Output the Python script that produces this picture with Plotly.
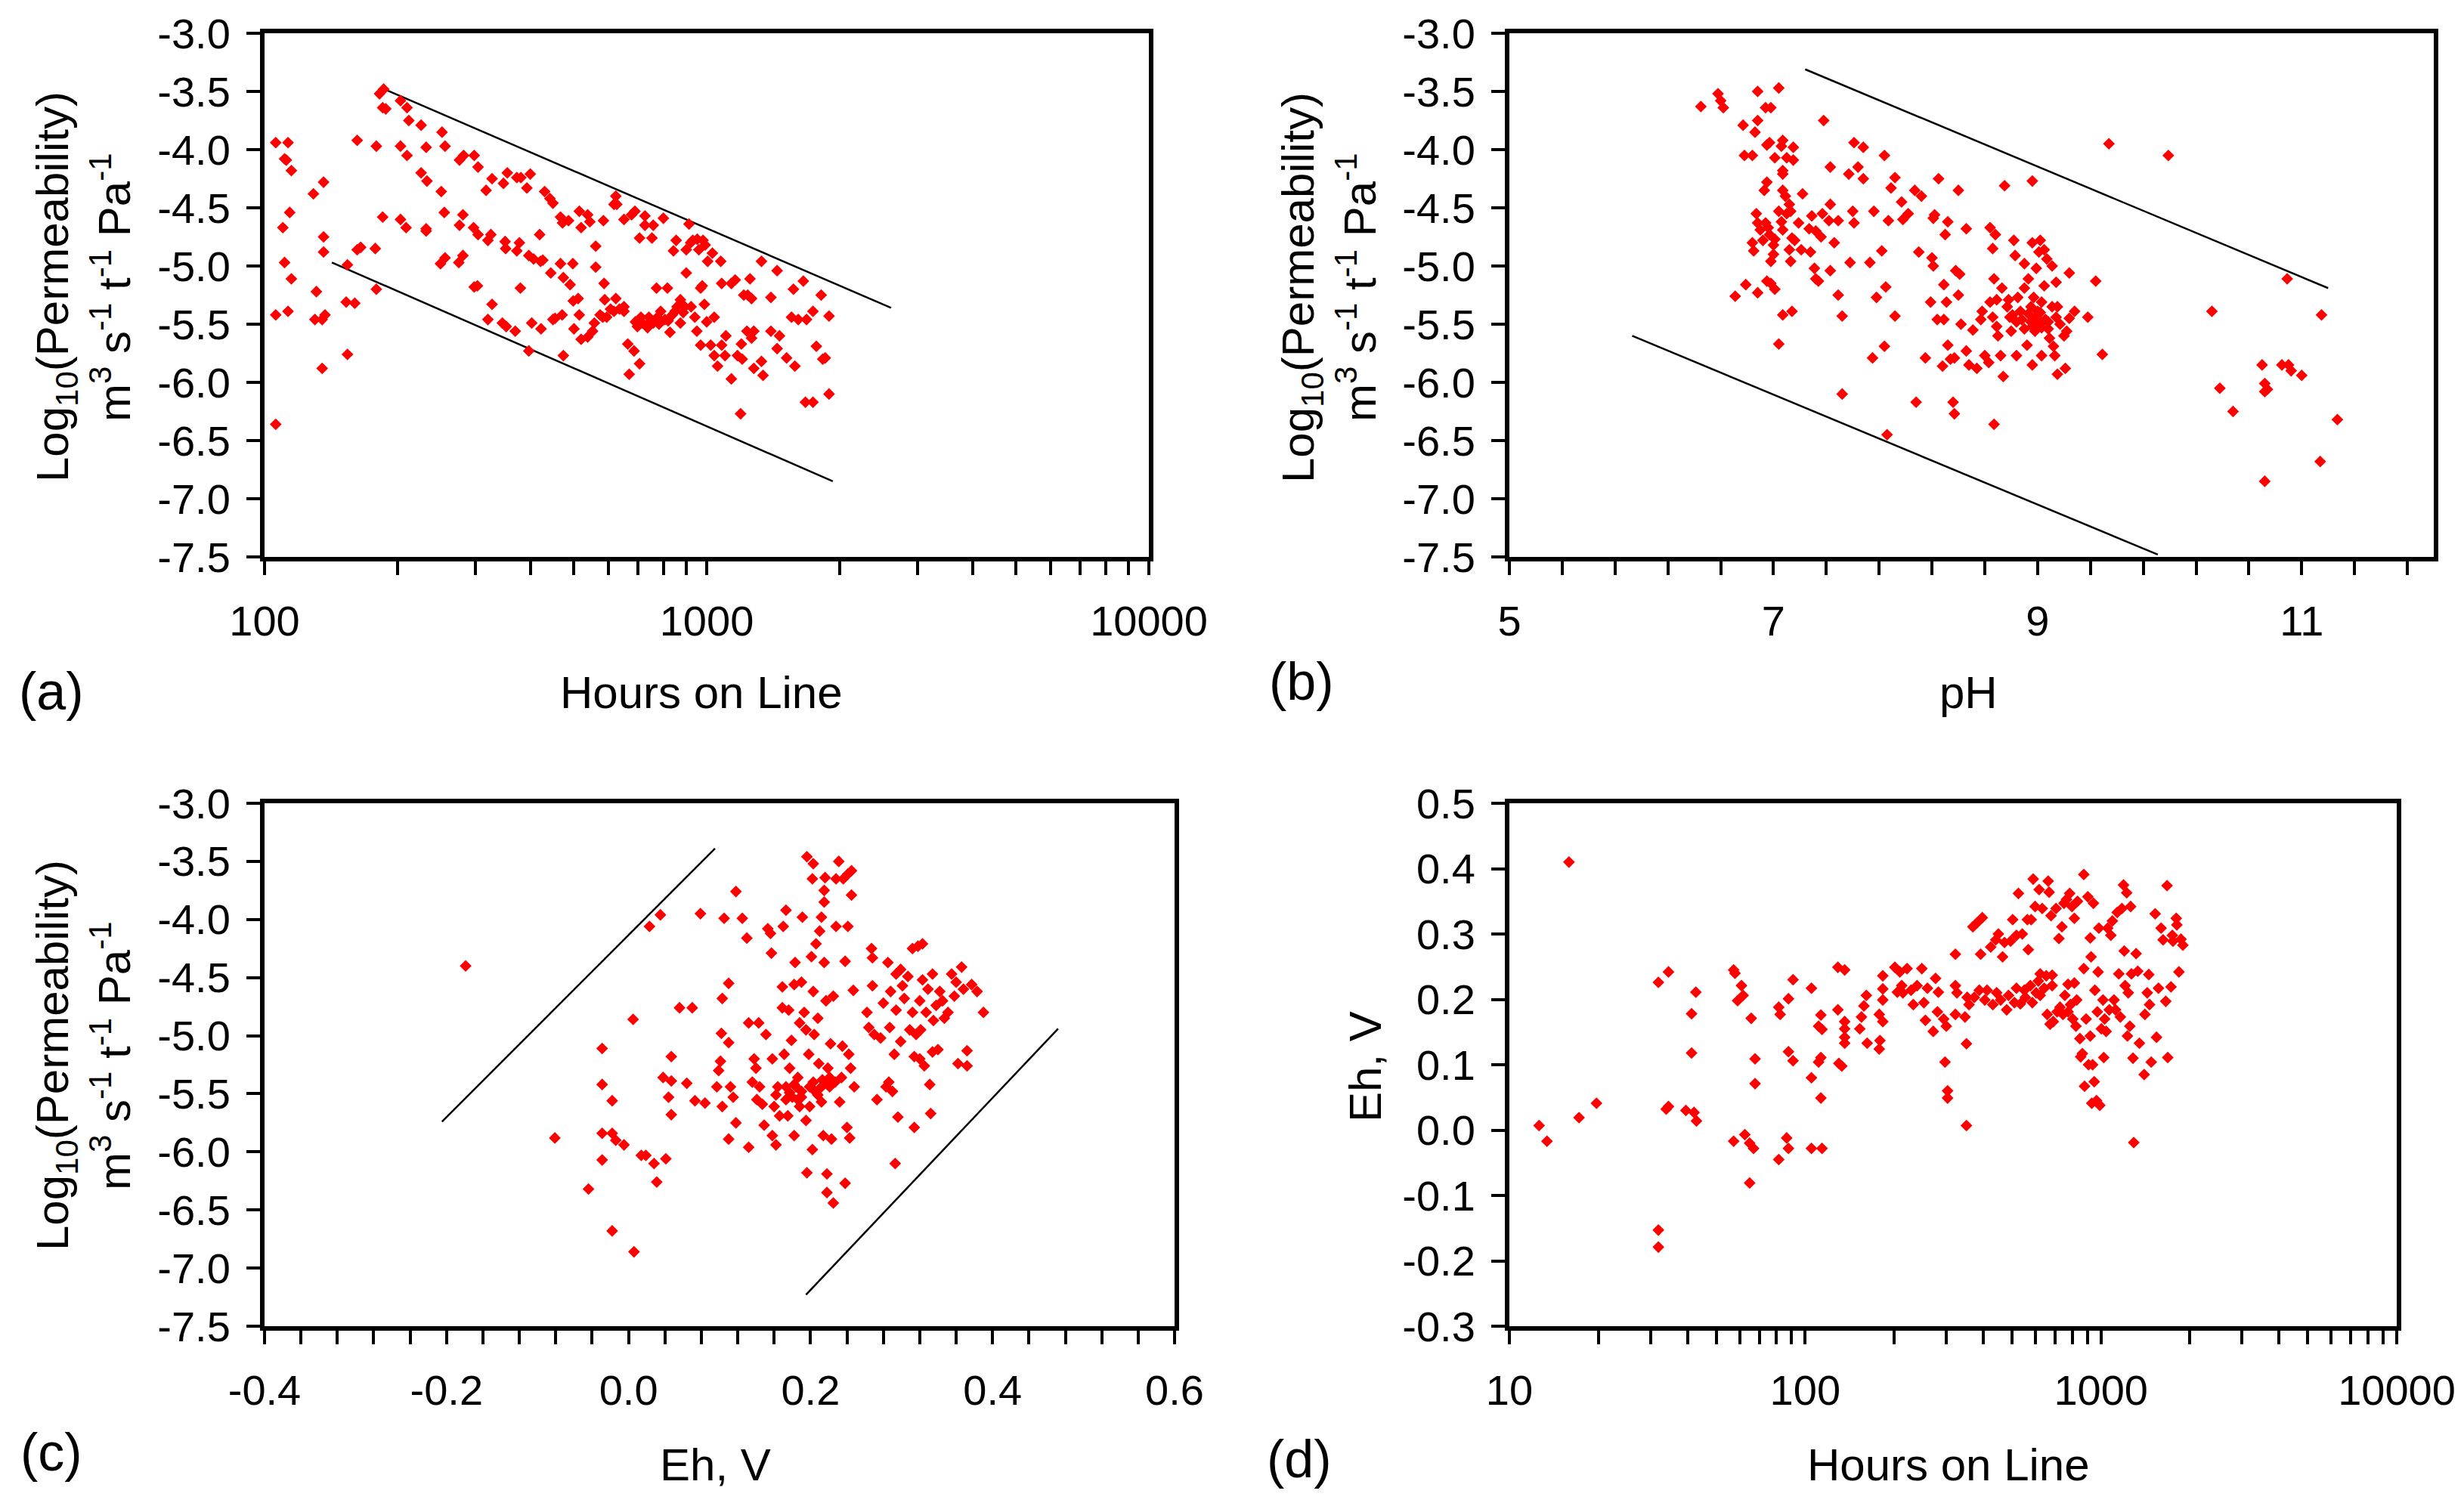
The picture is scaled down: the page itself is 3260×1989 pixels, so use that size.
import plotly.graph_objects as go
from plotly.subplots import make_subplots

FONT = "Liberation Sans"

# ---- (a) log permeability vs hours on line: (hours, log10 k) ----
a_points = [
    (106, -3.94), (113, -3.94), (111, -4.08), (112, -4.09), (115, -4.18), (129, -4.38), (136, -4.28),
    (110, -4.67), (114, -4.54), (111, -4.97), (115, -5.11), (106, -5.42), (113, -5.39), (131, -5.22),
    (130, -5.46), (135, -5.46), (137, -5.42), (136, -4.75), (136, -4.88), (135, -5.88), (106, -6.36),
    (154, -4.99), (153, -5.31), (160, -5.32), (154, -5.76), (162, -3.92), (162, -4.86), (165, -4.84),
    (178, -4.85), (179, -3.97), (179, -5.20), (186, -3.48), (182, -3.52), (185, -3.64), (188, -3.65),
    (185, -4.58), (203, -3.58), (210, -3.64), (212, -3.75), (226, -3.79), (232, -3.98), (203, -3.97),
    (210, -4.05), (226, -4.20), (233, -4.27), (252, -3.85), (256, -3.97), (251, -4.36), (255, -4.54),
    (203, -4.60), (209, -4.67), (232, -4.68), (232, -4.70), (250, -4.98), (256, -4.93), (276, -4.09),
    (282, -4.05), (276, -4.65), (281, -4.56), (275, -4.97), (281, -4.91), (298, -4.05), (304, -4.15),
    (297, -4.67), (304, -4.73), (298, -5.18), (303, -5.17), (317, -4.35), (327, -4.25), (325, -4.73),
    (320, -4.78), (320, -5.46), (327, -5.33), (347, -4.29), (354, -4.20), (350, -4.79), (351, -4.85),
    (345, -5.49), (352, -5.52), (372, -4.24), (380, -4.24), (372, -4.87), (377, -4.80), (369, -5.56),
    (379, -5.19), (392, -4.33), (399, -4.21), (396, -4.91), (406, -4.94), (396, -5.73), (402, -5.49),
    (419, -4.73), (421, -4.96), (426, -4.95), (422, -5.54), (430, -4.36), (442, -4.42), (449, -4.46),
    (444, -5.06), (449, -5.46), (454, -5.45), (467, -4.58), (472, -4.63), (467, -4.98), (474, -5.10),
    (471, -5.42), (474, -5.77), (487, -4.61), (491, -5.16), (498, -4.98), (501, -5.54), (499, -5.30),
    (512, -5.28), (515, -4.53), (520, -4.67), (515, -5.42), (520, -5.63), (538, -5.61), (538, -4.56),
    (544, -4.62), (552, -5.56), (557, -5.49), (561, -4.83), (561, -5.01), (574, -5.42), (584, -4.61),
    (586, -5.15), (588, -5.29), (582, -5.44), (594, -5.44), (606, -5.37), (617, -4.47), (623, -4.40),
    (626, -4.47), (617, -5.39), (623, -5.28), (635, -5.37), (650, -5.39), (650, -5.35), (650, -4.60),
    (663, -5.67), (668, -5.93), (676, -4.56), (688, -4.53), (685, -5.73), (697, -5.52), (705, -5.84),
    (710, -5.44), (705, -4.76), (725, -4.65), (725, -4.57), (735, -5.53), (740, -5.44), (745, -5.48),
    (752, -4.76), (757, -4.65), (770, -5.19), (774, -5.44), (780, -5.50), (787, -5.39), (798, -4.59),
    (815, -5.19), (818, -5.47), (826, -5.57), (836, -5.42), (841, -4.87), (853, -4.78), (857, -5.35),
    (872, -5.49), (872, -5.29), (885, -5.40), (899, -5.06), (899, -4.86), (912, -4.64), (920, -4.80),
    (922, -5.35), (940, -5.44), (950, -5.56), (952, -4.77), (969, -5.19), (977, -5.17), (969, -5.68),
    (981, -4.78), (988, -5.33), (1000, -5.48), (1005, -4.96), (1021, -5.68), (1030, -4.89), (1040, -5.77),
    (1040, -5.44), (1058, -5.86), (1076, -4.96), (1081, -5.15), (1081, -5.68), (1100, -5.77), (1105, -5.60),
    (1137, -5.15), (1137, -5.97), (1160, -5.12), (1174, -5.77), (1193, -6.27), (1198, -5.67), (1203, -5.80),
    (1213, -5.25), (1233, -5.56), (1238, -5.25), (1253, -5.11), (1263, -5.62), (1263, -5.28), (1278, -5.56),
    (1278, -5.88), (1330, -4.96), (1330, -5.82), (1341, -5.94), (1397, -5.27), (1397, -5.56), (1443, -5.04),
    (1461, -5.60), (1443, -5.71), (1516, -5.79), (1555, -5.44), (1571, -5.20), (1583, -5.86), (1611, -5.46),
    (1654, -5.13), (1672, -6.17), (1682, -5.46), (1739, -6.17), (1739, -5.39), (1770, -5.69), (1815, -5.25),
    (1830, -5.80), (1854, -5.79), (1891, -5.43), (1891, -6.10),
    (715, -5.49), (757, -5.49), (805, -5.46), (848, -5.39), (892, -5.35), (690, -5.48), (705, -5.50),
    (930, -4.78), (960, -4.86), (992, -4.82),
]
a_upper_hours = [189, 2612]
a_upper_logk = [-3.49, -5.36]
a_lower_hours = [142, 1928]
a_lower_logk = [-4.97, -6.85]

# ---- (b) log permeability vs pH: (pH, log10 k) ----
b_points = [
    (6.45, -3.63), (6.58, -3.52), (6.60, -3.58), (6.62, -3.64), (6.88, -3.50), (7.04, -3.47), (6.94, -3.64),
    (6.98, -3.64), (6.88, -3.75), (6.77, -3.79), (6.86, -3.85), (6.78, -4.05), (6.84, -4.05), (6.95, -3.96),
    (6.97, -3.94), (7.07, -3.92), (7.06, -3.97), (7.01, -4.07), (7.10, -4.07), (7.15, -3.98), (7.15, -4.09),
    (7.07, -4.18), (7.07, -4.21), (6.95, -4.28), (6.93, -4.35), (7.07, -4.35), (7.09, -4.40), (7.12, -4.47),
    (7.22, -4.38), (6.87, -4.55), (6.88, -4.63), (6.84, -4.80), (6.85, -4.87), (6.90, -4.69), (6.92, -4.78),
    (6.94, -4.63), (6.96, -4.67), (6.97, -4.73), (7.00, -4.82), (6.98, -4.96), (7.00, -4.90), (7.01, -4.77),
    (7.04, -4.53), (7.06, -4.62), (7.10, -4.55), (7.13, -4.53), (7.14, -4.76), (7.16, -4.78), (7.12, -4.86),
    (7.13, -4.96), (7.07, -4.69), (7.19, -4.63), (7.21, -4.86), (7.28, -4.88), (7.27, -4.68), (7.29, -4.57),
    (7.32, -4.70), (7.36, -4.75), (7.37, -4.55), (7.42, -4.61), (7.43, -4.47), (7.38, -3.75), (7.43, -4.15),
    (7.46, -4.80), (7.49, -4.61), (7.31, -5.02), (7.32, -5.11), (7.34, -5.13), (7.43, -5.04), (6.79, -5.16),
    (6.71, -5.26), (6.88, -5.23), (6.95, -5.13), (6.98, -5.15), (7.01, -5.20), (7.07, -5.42), (7.14, -5.39),
    (7.04, -5.67), (7.49, -5.25), (7.52, -5.43), (7.52, -6.10), (7.58, -4.97), (7.60, -4.53), (7.61, -4.63),
    (7.57, -4.21), (7.61, -3.94), (7.64, -4.15), (7.68, -3.98), (7.68, -4.25), (7.73, -4.97), (7.75, -5.79),
    (7.76, -4.53), (7.78, -5.27), (7.82, -4.87), (7.84, -4.05), (7.85, -5.18), (7.84, -5.69), (7.87, -4.61),
    (7.89, -4.33), (7.92, -4.24), (7.92, -5.43), (7.86, -6.45), (7.97, -4.45), (7.98, -4.60), (8.02, -4.55),
    (8.07, -4.35), (8.08, -6.17), (8.12, -4.40), (8.10, -4.88), (8.15, -5.79), (8.19, -5.31), (8.20, -4.93),
    (8.21, -5.00), (8.22, -4.56), (8.21, -4.59), (8.24, -5.46), (8.25, -4.25), (8.29, -5.16), (8.30, -4.73),
    (8.29, -5.46), (8.28, -5.86), (8.31, -5.31), (8.32, -4.62), (8.32, -5.68), (8.34, -5.80), (8.36, -6.17),
    (8.37, -6.27), (8.37, -5.79), (8.38, -5.04), (8.40, -4.35), (8.40, -5.25), (8.41, -5.07), (8.42, -5.50),
    (8.46, -4.68), (8.46, -5.73), (8.48, -5.85), (8.51, -5.55), (8.54, -5.88), (8.57, -5.46), (8.58, -5.39),
    (8.60, -5.77), (8.63, -5.83), (8.64, -5.31), (8.64, -4.67), (8.66, -4.85), (8.67, -5.11), (8.66, -5.44),
    (8.68, -4.73), (8.69, -5.29), (8.69, -5.52), (8.70, -5.60), (8.72, -5.77), (8.67, -6.36), (8.75, -4.31),
    (8.73, -5.19), (8.74, -5.95), (8.77, -5.35), (8.78, -5.29), (8.79, -5.44), (8.80, -5.56), (8.82, -4.78),
    (8.83, -4.91), (8.84, -5.77), (8.85, -5.27), (8.87, -5.39), (8.88, -5.46), (8.90, -5.19), (8.90, -4.98),
    (8.92, -5.68), (8.93, -5.11), (8.95, -5.48), (8.96, -4.27), (8.96, -5.85), (8.96, -4.80), (8.97, -5.27),
    (8.98, -5.56), (8.99, -5.02), (9.00, -5.39), (9.01, -4.88), (9.02, -5.50), (9.02, -4.78), (9.03, -5.77),
    (9.03, -5.31), (9.05, -5.17), (9.05, -4.86), (9.06, -5.46), (9.07, -4.94), (9.08, -5.54), (9.09, -5.62),
    (9.11, -5.00), (9.11, -5.35), (9.12, -5.69), (9.13, -5.77), (9.14, -5.14), (9.14, -5.44), (9.15, -5.93),
    (9.15, -5.35), (9.17, -5.50), (9.20, -5.60), (9.21, -5.88), (9.22, -5.56), (9.24, -5.06), (9.24, -5.45),
    (9.28, -5.39), (9.38, -5.44), (9.44, -5.13), (9.49, -5.76), (9.54, -3.95), (9.99, -4.05), (10.32, -5.39),
    (10.38, -6.05), (10.48, -6.25), (10.70, -5.85), (10.72, -6.01), (10.72, -6.08), (10.74, -6.06),
    (10.72, -6.85), (10.85, -5.85), (10.90, -5.85), (10.92, -5.90), (10.89, -5.11), (11.00, -5.94),
    (11.15, -5.42), (11.14, -6.68), (11.27, -6.32),
    (8.93, -5.41), (8.96, -5.52), (8.99, -5.44), (9.03, -5.53), (9.08, -5.48), (8.84, -5.48), (8.81, -5.42),
    (8.90, -5.54), (8.95, -5.35), (9.02, -5.40),
]
b_upper_ph = [7.24, 11.2]
b_upper_logk = [-3.31, -5.19]
b_lower_ph = [5.93, 9.91]
b_lower_logk = [-5.60, -7.48]

# ---- (c) log permeability vs Eh: (Eh V, log10 k) ----
c_points = [
    (-0.179, -4.40), (-0.081, -5.88), (-0.044, -6.32), (-0.029, -5.11), (-0.029, -5.42), (-0.029, -5.84),
    (-0.029, -6.07), (-0.018, -5.56), (-0.018, -5.84), (-0.014, -5.90), (-0.018, -6.68), (-0.005, -5.94),
    (0.005, -4.86), (0.006, -6.86), (0.014, -6.03), (0.019, -6.03), (0.023, -4.06), (0.028, -6.10),
    (0.031, -6.26), (0.035, -3.96), (0.038, -5.36), (0.041, -6.06), (0.044, -5.53), (0.047, -5.39),
    (0.047, -5.18), (0.047, -5.68), (0.056, -4.76), (0.064, -5.41), (0.070, -4.76), (0.073, -5.56),
    (0.079, -3.95), (0.084, -5.58), (0.097, -5.44), (0.099, -5.30), (0.101, -5.22), (0.102, -4.98),
    (0.103, -4.68), (0.105, -3.99), (0.103, -5.61), (0.110, -4.55), (0.110, -5.06), (0.110, -5.89),
    (0.112, -5.44), (0.115, -5.53), (0.118, -3.76), (0.118, -5.75), (0.125, -3.99), (0.130, -4.16),
    (0.132, -4.89), (0.132, -5.96), (0.136, -5.40), (0.138, -5.20), (0.140, -5.28), (0.141, -5.55),
    (0.143, -4.89), (0.144, -5.44), (0.147, -5.59), (0.149, -5.77), (0.151, -4.99), (0.153, -4.08),
    (0.156, -4.12), (0.157, -4.29), (0.158, -5.20), (0.158, -5.86), (0.160, -5.61), (0.162, -5.51),
    (0.162, -5.94), (0.164, -5.44), (0.166, -5.69), (0.169, -4.58), (0.169, -4.76), (0.170, -4.06),
    (0.171, -5.16), (0.173, -3.92), (0.173, -5.44), (0.175, -5.69), (0.176, -4.78), (0.177, -5.28),
    (0.179, -5.04), (0.180, -5.53), (0.182, -4.56), (0.182, -5.86), (0.183, -4.37), (0.184, -5.44),
    (0.186, -5.36), (0.188, -4.89), (0.188, -5.61), (0.190, -4.54), (0.190, -5.48), (0.191, -3.98),
    (0.193, -4.80), (0.195, -4.95), (0.195, -5.73), (0.196, -6.18), (0.196, -3.46), (0.198, -5.16),
    (0.199, -5.44), (0.201, -4.32), (0.202, -5.98), (0.202, -3.65), (0.203, -3.52), (0.203, -4.62),
    (0.204, -4.99), (0.205, -5.48), (0.206, -4.21), (0.208, -4.85), (0.209, -5.24), (0.210, -4.10),
    (0.212, -3.98), (0.212, -5.57), (0.213, -5.38), (0.214, -5.86), (0.215, -4.37), (0.215, -3.75),
    (0.215, -3.85), (0.216, -3.64), (0.217, -4.70), (0.218, -6.19), (0.218, -6.35), (0.219, -5.28),
    (0.221, -5.44), (0.222, -5.07), (0.223, -5.89), (0.225, -6.44), (0.225, -4.66), (0.227, -5.40),
    (0.228, -3.65), (0.228, -4.06), (0.231, -3.50), (0.232, -5.57), (0.234, -5.36), (0.235, -5.09),
    (0.236, -3.65), (0.238, -6.27), (0.238, -4.36), (0.240, -5.79), (0.241, -3.61), (0.241, -4.06),
    (0.242, -5.16), (0.243, -5.88), (0.244, -5.28), (0.245, -3.58), (0.245, -3.79), (0.247, -4.61),
    (0.248, -5.44), (0.262, -4.80), (0.264, -4.93), (0.267, -4.25), (0.268, -4.33), (0.268, -4.57),
    (0.270, -4.99), (0.273, -5.55), (0.277, -5.02), (0.280, -4.72), (0.283, -5.44), (0.285, -4.37),
    (0.286, -5.40), (0.287, -4.93), (0.288, -4.62), (0.290, -5.48), (0.292, -5.16), (0.293, -6.10),
    (0.294, -4.47), (0.294, -4.78), (0.296, -5.70), (0.299, -4.43), (0.299, -5.05), (0.301, -4.57),
    (0.303, -4.68), (0.307, -4.49), (0.309, -4.95), (0.312, -4.25), (0.312, -4.80), (0.314, -5.18),
    (0.314, -5.79), (0.316, -4.99), (0.318, -4.23), (0.320, -4.70), (0.320, -5.20), (0.321, -4.95),
    (0.323, -4.21), (0.323, -4.52), (0.325, -5.26), (0.327, -4.80), (0.329, -4.60), (0.331, -5.42),
    (0.332, -5.67), (0.334, -4.47), (0.334, -5.14), (0.335, -4.87), (0.338, -4.74), (0.340, -5.12),
    (0.342, -4.62), (0.345, -4.70), (0.347, -4.85), (0.351, -4.80), (0.355, -4.47), (0.358, -4.66),
    (0.360, -4.54), (0.362, -5.24), (0.366, -4.41), (0.368, -4.60), (0.372, -5.13), (0.372, -5.26),
    (0.377, -4.56), (0.383, -4.62), (0.390, -4.80),
    (0.177, -5.49), (0.190, -5.53), (0.203, -5.40), (0.208, -5.51), (0.212, -5.44), (0.216, -5.40),
    (0.199, -5.61), (0.186, -5.55), (0.221, -5.36), (0.173, -5.55), (0.182, -5.42),
]
c_left_eh = [-0.205, 0.095]
c_left_logk = [-5.74, -3.39]
c_right_eh = [0.195, 0.472]
c_right_logk = [-7.23, -4.94]

# ---- (d) Eh vs hours on line: (hours, Eh V) ----
d_points = [
    (12.6, 0.007), (13.4, -0.017), (15.9, 0.410), (17.2, 0.019), (19.7, 0.041), (31.9, 0.226),
    (31.9, -0.153), (31.9, -0.179), (33.9, 0.032), (34.5, 0.036), (34.5, 0.242), (39.5, 0.030),
    (41.3, 0.178), (41.3, 0.118), (42.1, 0.027), (42.9, 0.014), (42.7, 0.211), (57.3, 0.245),
    (57.9, 0.240), (59.1, 0.198), (60.9, 0.221), (61.7, 0.206), (57.3, -0.017), (62.5, -0.007),
    (64.9, -0.020), (66.9, -0.028), (64.9, -0.081), (65.7, 0.171), (67.7, 0.109), (67.7, 0.071),
    (81.4, 0.188), (82.3, 0.177), (81.4, -0.045), (86.6, -0.012), (87.8, -0.028), (87.8, 0.201),
    (87.8, 0.120), (91.0, 0.230), (91.0, 0.106), (105, 0.217), (105, 0.080), (105, -0.028),
    (111, 0.159), (111, 0.104), (113, 0.176), (114, 0.154), (114, -0.028), (113, 0.111), (113, 0.049),
    (129, 0.249), (129, 0.184), (130, 0.102), (133, 0.098), (136, 0.245), (136, 0.166), (136, 0.155),
    (136, 0.142), (136, 0.133), (153, 0.155), (155, 0.173), (158, 0.190), (161, 0.206), (162, 0.133),
    (178, 0.177), (179, 0.137), (178, 0.124), (183, 0.166), (183, 0.236), (183, 0.216), (183, 0.199),
    (201, 0.249), (205, 0.211), (209, 0.242), (212, 0.221), (214, 0.210), (221, 0.247), (228, 0.214),
    (232, 0.192), (239, 0.221), (248, 0.247), (252, 0.195), (255, 0.168), (259, 0.217), (271, 0.151),
    (276, 0.232), (280, 0.181), (282, 0.211), (294, 0.170), (297, 0.104), (300, 0.159), (303, 0.060),
    (303, 0.049), (322, 0.269), (322, 0.221), (326, 0.210), (322, 0.177), (347, 0.173), (351, 0.132),
    (351, 0.007), (353, 0.203), (358, 0.192), (369, 0.311), (373, 0.203), (381, 0.317), (388, 0.214),
    (392, 0.269), (397, 0.325), (405, 0.199), (412, 0.214), (424, 0.280), (431, 0.192), (441, 0.291),
    (444, 0.210), (450, 0.300), (458, 0.199), (465, 0.265), (472, 0.287), (480, 0.184), (487, 0.206),
    (495, 0.289), (503, 0.322), (510, 0.195), (518, 0.217), (518, 0.298), (526, 0.362), (534, 0.193),
    (542, 0.300), (551, 0.214), (555, 0.203), (564, 0.322), (568, 0.276), (577, 0.221), (581, 0.322),
    (586, 0.195), (590, 0.384), (599, 0.342), (604, 0.210), (614, 0.228), (618, 0.368), (623, 0.206),
    (623, 0.239), (633, 0.339), (643, 0.217), (653, 0.236), (658, 0.177), (663, 0.381), (668, 0.364),
    (673, 0.162), (678, 0.328), (684, 0.221), (684, 0.237), (690, 0.166), (705, 0.339), (711, 0.181),
    (721, 0.293), (727, 0.188), (738, 0.311), (744, 0.177), (750, 0.347), (755, 0.206), (765, 0.353),
    (774, 0.223), (774, 0.181), (784, 0.362), (789, 0.192), (798, 0.342), (803, 0.170), (813, 0.225),
    (813, 0.324), (823, 0.159), (828, 0.199), (833, 0.350), (849, 0.140), (854, 0.112), (865, 0.117),
    (875, 0.391), (875, 0.247), (880, 0.067), (891, 0.170), (903, 0.357), (908, 0.100), (920, 0.294),
    (920, 0.144), (926, 0.265), (931, 0.041), (937, 0.100), (943, 0.347), (949, 0.074), (954, 0.214),
    (966, 0.045), (972, 0.181), (978, 0.242), (984, 0.309), (991, 0.038), (1003, 0.155), (1016, 0.199),
    (1022, 0.111), (1029, 0.170), (1041, 0.151), (1054, 0.309), (1067, 0.184), (1080, 0.298),
    (1093, 0.320), (1107, 0.199), (1120, 0.184), (1135, 0.333), (1149, 0.239), (1163, 0.173),
    (1177, 0.339), (1192, 0.375), (1199, 0.274), (1207, 0.221), (1222, 0.363), (1229, 0.144),
    (1237, 0.210), (1252, 0.159), (1260, 0.342), (1268, 0.239), (1283, 0.110), (1291, -0.019),
    (1315, 0.270), (1332, 0.243), (1349, 0.133), (1400, 0.085), (1408, 0.177), (1434, 0.210),
    (1451, 0.238), (1460, 0.192), (1479, 0.104), (1525, 0.331), (1541, 0.142), (1565, 0.217),
    (1597, 0.309), (1622, 0.291), (1656, 0.197), (1673, 0.374), (1682, 0.111), (1725, 0.219),
    (1743, 0.298), (1797, 0.324), (1806, 0.314), (1835, 0.242), (1864, 0.292), (1892, 0.283),
    (1752, 0.289),
]

# tick labels
logk_ticks = [-7.5, -7.0, -6.5, -6.0, -5.5, -5.0, -4.5, -4.0, -3.5, -3.0]
eh_ticks = [-0.3, -0.2, -0.1, 0.0, 0.1, 0.2, 0.3, 0.4, 0.5]
hours_ticks_a = [100, 1000, 10000]
hours_ticks_d = [10, 100, 1000, 10000]
ph_ticks = [5, 7, 9, 11]
ehx_ticks = [-0.4, -0.2, 0.0, 0.2, 0.4, 0.6]

W, H = 3260, 1989
PAGE_PAD = 8  # the html body margin shifts the figure by this much


def fx(px):
    # pixel column in the reference -> paper fraction
    return (px - PAGE_PAD) / W


def fy(py):
    # pixel row in the reference (from top) -> paper fraction
    return 1 - (py - PAGE_PAD) / H


fig = make_subplots(rows=2, cols=2)

marker_style = dict(symbol="diamond", size=12, color="#ff0000", line=dict(width=0))
line_style = dict(color="black", width=2.5)


def add_points(pts, row, col):
    fig.add_trace(go.Scatter(x=[p[0] for p in pts], y=[p[1] for p in pts], mode="markers",
                             marker=marker_style, showlegend=False, hoverinfo="skip"), row=row, col=col)


def add_line(xs, ys, row, col):
    fig.add_trace(go.Scatter(x=xs, y=ys, mode="lines", line=line_style,
                             showlegend=False, hoverinfo="skip"), row=row, col=col)


add_line(a_upper_hours, a_upper_logk, 1, 1)
add_line(a_lower_hours, a_lower_logk, 1, 1)
add_points(a_points, 1, 1)
add_line(b_upper_ph, b_upper_logk, 1, 2)
add_line(b_lower_ph, b_lower_logk, 1, 2)
add_points(b_points, 1, 2)
add_line(c_left_eh, c_left_logk, 2, 1)
add_line(c_right_eh, c_right_logk, 2, 1)
add_points(c_points, 2, 1)
add_points(d_points, 2, 2)

tickfont = dict(family=FONT, size=56, color="black")
axis_common = dict(showline=True, linecolor="black", linewidth=6, mirror=True, ticks="outside",
                   ticklen=18, tickwidth=4, tickcolor="black", showgrid=False, zeroline=False,
                   tickfont=tickfont, automargin=False)
minor_common = dict(ticks="outside", ticklen=18, tickwidth=4, tickcolor="black", showgrid=False)

log_minor_a = [m * 10 ** e for e in (2, 3) for m in range(2, 10)]
log_minor_d = [m * 10 ** e for e in (1, 2, 3) for m in range(2, 10)]

top = [fy(737), fy(44)]
bottom = [fy(1755), fy(1063)]

fig.update_xaxes(row=1, col=1, **axis_common, type="log", range=[2, 4], domain=[fx(350), fx(1520)],
                 tickvals=hours_ticks_a, ticktext=[str(v) for v in hours_ticks_a],
                 minor=dict(**minor_common, tickvals=log_minor_a), ticklabelstandoff=13)
fig.update_xaxes(row=1, col=2, **axis_common, range=[5, 12], domain=[fx(1997), fx(3220)],
                 tickvals=ph_ticks, ticktext=[str(v) for v in ph_ticks],
                 minor=dict(**minor_common, tick0=5, dtick=0.4), ticklabelstandoff=13)
fig.update_xaxes(row=2, col=1, **axis_common, range=[-0.4, 0.6], domain=[fx(350), fx(1554)],
                 tickvals=ehx_ticks, ticktext=[f"{v:.1f}" for v in ehx_ticks],
                 minor=dict(**minor_common, tick0=-0.4, dtick=0.04), ticklabelstandoff=13)
fig.update_xaxes(row=2, col=2, **axis_common, type="log", range=[1, 4], domain=[fx(1997), fx(3171)],
                 tickvals=hours_ticks_d, ticktext=[str(v) for v in hours_ticks_d],
                 minor=dict(**minor_common, tickvals=log_minor_d), ticklabelstandoff=13)

for r, c, dom in [(1, 1, top), (1, 2, top), (2, 1, bottom)]:
    fig.update_yaxes(row=r, col=c, **axis_common, range=[-7.5, -3.0], domain=dom,
                     tickvals=logk_ticks, ticktext=[f"{v:.1f}" for v in logk_ticks], ticklabelstandoff=10)
fig.update_yaxes(row=2, col=2, **axis_common, range=[-0.3, 0.5], domain=bottom,
                 tickvals=eh_ticks, ticktext=[f"{v:.1f}" for v in eh_ticks], ticklabelstandoff=10)

title_font = dict(family=FONT, size=60, color="black")
label_font = dict(family=FONT, size=70, color="black")

annotations = []


def note(text, px, py, font, angle=0):
    annotations.append(dict(text=text, x=fx(px), y=fy(py), xref="paper", yref="paper", showarrow=False,
                            xanchor="center", yanchor="middle", textangle=angle, font=font))


# panel letters
note("(a)", 68, 915, label_font)
note("(b)", 1722, 902, label_font)
note("(c)", 68, 1922, label_font)
note("(d)", 1719, 1931, label_font)

# x axis titles
note("Hours on Line", 928, 917, title_font)
note("pH", 2604, 917, title_font)
note("Eh, V", 946, 1938, title_font)
note("Hours on Line", 2578, 1938, title_font)

# y axis titles
line1 = "Log<sub>10</sub>(Permeability)"
line2 = "m<sup>3</sup> s<sup>-1</sup> t<sup>-1</sup> Pa<sup>-1</sup>"
for x1, x2, yc in [(74, 147, 380), (1722, 1795, 380), (74, 147, 1397)]:
    note(line1, x1, yc, title_font, -90)
    note(line2, x2, yc, title_font, -90)
note("Eh, V", 1806, 1412, title_font, -90)

fig.update_layout(
    width=W, height=H,
    margin=dict(l=0, r=0, t=0, b=0),
    paper_bgcolor="white", plot_bgcolor="white",
    font=dict(family=FONT, color="black"),
    annotations=annotations,
    showlegend=False,
)

fig.write_html("out.html")
